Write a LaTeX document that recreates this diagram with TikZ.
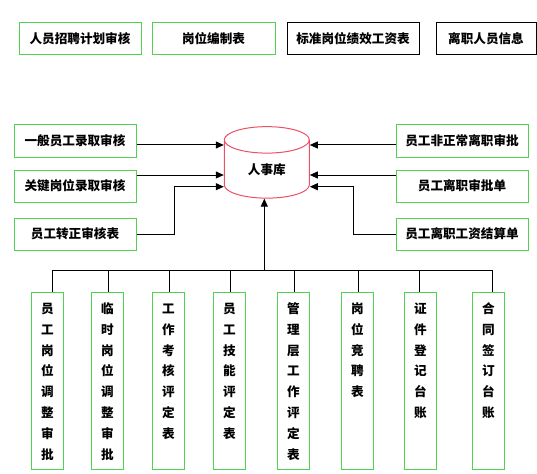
\documentclass[tikz,border=0pt]{standalone}
\usepackage{fontspec}
\setmainfont{Noto Sans CJK SC}
\usetikzlibrary{shapes.geometric,arrows.meta}
\definecolor{boxgreen}{RGB}{80,210,80}
\definecolor{dbred}{RGB}{235,80,100}
\tikzset{
	hbox/.style={draw=boxgreen,line width=1pt,minimum height=32pt,inner sep=0pt,font=\fontsize{12.6}{15}\selectfont\bfseries},
	blackbox/.style={hbox,draw=black},
	vbox/.style={draw=boxgreen,line width=1pt,anchor=north,minimum width=32pt,minimum height=177pt,inner sep=0pt,text width=14pt,align=center,text height=21pt,text depth=156pt,font=\fontsize{12.6}{20.8}\selectfont\bfseries},
	db/.style={cylinder,shape border rotate=90,draw=dbred,line width=1pt,minimum width=85pt,minimum height=71.5pt,aspect=0.7,inner sep=0pt,anchor=shape center,font=\fontsize{12.6}{15}\selectfont\bfseries},
	arr/.style={line width=1pt,-{Triangle[length=8pt,width=7pt]}},
	wire/.style={line width=1pt}
}
\begin{document}
\begin{tikzpicture}[x=1pt,y=-1pt]
			\useasboundingbox (0,0) rectangle (537,473);
			\node[hbox,minimum width=122pt] (zpjh) at (80,39) {人员招聘计划审核};
			\node[hbox,minimum width=123pt] (gwbz) at (213.5,39) {岗位编制表};
			\node[blackbox,minimum width=132pt] (bzgz) at (353,39) {标准岗位绩效工资表};
			\node[blackbox,minimum width=100pt] (lzxx) at (486,39) {离职人员信息};
			\node[db] (rsk) at (266.8,162.4) {人事库};
			\node[hbox,minimum width=122pt] (ybly) at (75,141) {一般员工录取审核};
			\node[hbox,minimum width=122pt] (gjly) at (75,186) {关键岗位录取审核};
			\node[hbox,minimum width=122pt] (zzsh) at (75,234) {员工转正审核表};
			\node[hbox,minimum width=132pt] (fzcl) at (462,141) {员工非正常离职审批};
			\node[hbox,minimum width=132pt] (lzsp) at (462,186) {员工离职审批单};
			\node[hbox,minimum width=132pt] (lzjs) at (462,234) {员工离职工资结算单};
			\draw[arr] (ybly.east |- 0,145) -- (rsk.west |- 0,145);
			\draw[arr] (gjly.east |- 0,175) -- (rsk.west |- 0,175);
			\draw[arr] (zzsh.east) -| (174,186.7) -- (rsk.west |- 0,186.7);
			\draw[arr] (fzcl.west |- 0,145) -- (rsk.east |- 0,145);
			\draw[arr] (lzsp.west |- 0,175) -- (rsk.east |- 0,175);
			\draw[arr] (lzjs.west) -| (353,186.7) -- (rsk.east |- 0,186.7);
			\coordinate (hub) at (264.3,270.7);
			\draw[arr] (hub) -- (hub |- rsk.south);
			\draw[wire] (52.4,270.7) -- (492.5,270.7);
			\foreach \name/\cx/\dx/\txt in {
					gwtz/47.5/52.4/{员\\工\\岗\\位\\调\\整\\审\\批},
					lstz/107.4/108.9/{临\\时\\岗\\位\\调\\整\\审\\批},
					gzkh/168.3/169.2/{工\\作\\考\\核\\评\\定\\表},
					jnpd/229.3/230.1/{员\\工\\技\\能\\评\\定\\表},
					glpd/293.3/294.2/{管\\理\\层\\工\\作\\评\\定\\表},
					gwjp/357.4/358.2/{岗\\位\\竞\\聘\\表},
					zjdj/420.5/419.5/{证\\件\\登\\记\\台\\账},
					htqd/488.5/492.5/{合\\同\\签\\订\\台\\账}} {
					\node[vbox] (\name) at (\cx,292) {\txt};
					\draw[wire] (\dx,270.7) -- (\name.north -| \dx,0);
				}
		\end{tikzpicture}
\end{document}
